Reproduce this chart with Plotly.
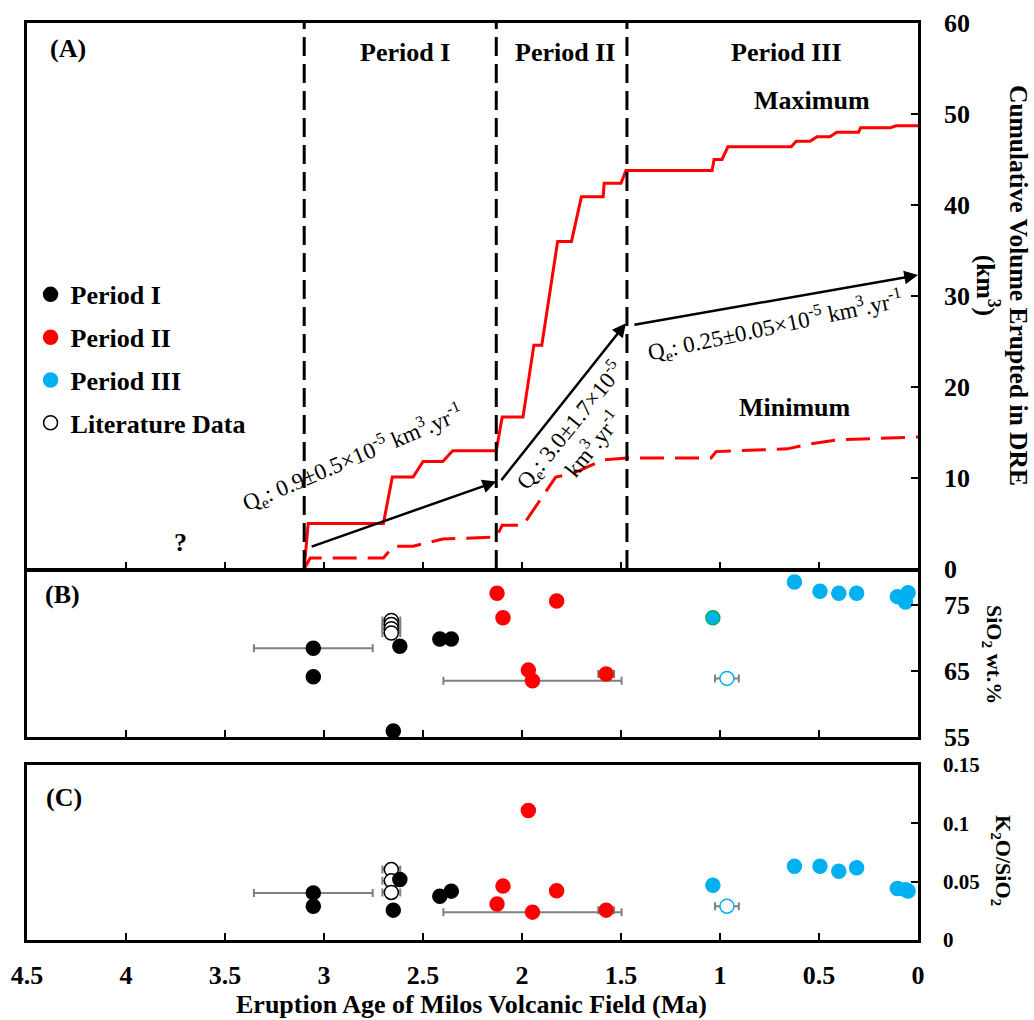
import plotly.graph_objects as go

# ---------------- data ----------------
# Boundaries between eruptive periods (Ma)
period_bounds = [3.10, 2.13, 1.47]
period_names = ["Period I", "Period II", "Period III"]

# Cumulative erupted volume, maximum estimate (km3 DRE)
max_age = [3.10, 3.08, 2.70, 2.655, 2.55, 2.50, 2.40, 2.35, 2.13, 2.10,
           1.995, 1.94, 1.90, 1.82, 1.75, 1.70, 1.59, 1.585, 1.50, 1.475,
           1.04, 1.03, 0.99, 0.96, 0.64, 0.615, 0.545, 0.51, 0.445, 0.41,
           0.30, 0.29, 0.14, 0.11, 0.0]
max_vol = [0.0, 5.0, 5.0, 10.1, 10.1, 11.8, 11.8, 13.0, 13.0, 16.7,
           16.7, 24.6, 24.6, 36.0, 36.0, 40.9, 40.9, 42.4, 42.4, 43.8,
           43.8, 45.0, 45.0, 46.4, 46.4, 47.0, 47.0, 47.5, 47.5, 48.0,
           48.0, 48.5, 48.5, 48.7, 48.7]

# Cumulative erupted volume, minimum estimate (km3 DRE)
min_age = [3.10, 3.07, 2.70, 2.65, 2.55, 2.40, 2.13, 2.10, 1.995, 1.83,
           1.74, 1.59, 1.47, 1.045, 1.02, 0.66, 0.53, 0.40, 0.0]
min_vol = [0.0, 1.2, 1.2, 2.5, 2.5, 3.3, 3.5, 4.8, 4.8, 10.1,
           10.5, 12.0, 12.2, 12.2, 12.9, 13.2, 13.8, 14.2, 14.5]

# Average eruption-rate vectors per period
rate_tail_age = [3.07, 2.11, 1.44]
rate_tail_vol = [2.4, 9.6, 26.8]
rate_head_age = [2.13, 1.475, 0.0]
rate_head_vol = [9.6, 27.0, 32.3]
rate_text = [
    "Q<sub>e</sub>: 0.9±0.5×10<sup>-5</sup> km<sup>3</sup>.yr<sup>-1</sup>",
    "Q<sub>e</sub>: 3.0±1.7×10<sup>-5</sup><br>km<sup>3</sup>.yr<sup>-1</sup>",
    "Q<sub>e</sub>: 0.25±0.05×10<sup>-5</sup> km<sup>3</sup>.yr<sup>-1</sup>",
]

# Period I samples
p1_age = [3.054, 3.054, 2.65, 2.617, 2.415, 2.357]
p1_err = [0.30, 0.0, 0.0, 0.0, 0.0, 0.0]
p1_sio2 = [68.4, 64.1, 55.9, 68.7, 69.8, 69.8]
p1_k2o_sio2 = [0.0404, 0.029, 0.0256, 0.0519, 0.0376, 0.0419]

# Period II samples
p2_age = [2.126, 2.096, 1.968, 1.947, 1.825, 1.575]
p2_err = [0.0, 0.0, 0.0, 0.45, 0.0, 0.04]
p2_sio2 = [76.7, 73.0, 65.1, 63.5, 75.55, 64.5]
p2_k2o_sio2 = [0.0308, 0.0462, 0.111, 0.0239, 0.0422, 0.0256]

# Period III samples
p3_age = [0.624, 0.495, 0.40, 0.31, 0.104, 0.05, 0.063, 1.036]
p3_sio2 = [78.4, 77.0, 76.7, 76.7, 76.2, 76.8, 75.4, 73.0]
p3_k2o_sio2 = [0.0632, 0.0632, 0.059, 0.062, 0.0442, 0.0421, 0.043, 0.047]
p3_edge_b = ["#00B0F0"] * 7 + ["#00B050"]

# Literature data
lit1_age = [2.66, 2.66, 2.66, 2.66]
lit1_err = [0.045, 0.045, 0.045, 0.045]
lit1_sio2 = [72.6, 72.0, 71.35, 70.7]
lit1_k2o_sio2 = [0.0604, 0.0507, 0.0408, None]
lit3_age = [0.965]
lit3_err = [0.06]
lit3_sio2 = [63.85]
lit3_k2o_sio2 = [0.029]

age_ticks = [4.5, 4.0, 3.5, 3.0, 2.5, 2.0, 1.5, 1.0, 0.5, 0.0]
age_ticktext = ["4.5", "4", "3.5", "3", "2.5", "2", "1.5", "1", "0.5", "0"]

# ---------------- styling ----------------
SERIF = "Liberation Serif"
BLACK = "#000000"
RED = "#FF0000"
BLUE = "#00B0F0"
GREY = "#808080"
MS = 14

fig = go.Figure()

# Panel A curves
fig.add_trace(go.Scatter(x=max_age, y=max_vol, mode="lines",
                         line=dict(color=RED, width=3), xaxis="x", yaxis="y",
                         showlegend=False, hoverinfo="skip"))
fig.add_trace(go.Scatter(x=min_age, y=min_vol, mode="lines",
                         line=dict(color=RED, width=3, dash="24px,11px"),
                         xaxis="x", yaxis="y", showlegend=False, hoverinfo="skip"))


def err(vals):
    return dict(type="data", array=vals, color=GREY, thickness=2, width=4)


def pts(x, y, xa, ya, color, edge=None, errx=None, name=None, legend=False,
        rank=None):
    return go.Scatter(
        x=x, y=y, mode="markers", xaxis=xa, yaxis=ya,
        marker=dict(size=MS, color=color,
                    line=dict(color=edge if edge is not None else color, width=1.5)),
        error_x=err(errx) if errx is not None else None,
        name=name, showlegend=legend, legendgroup=name, legendrank=rank,
        hoverinfo="x+y",
    )


# Panel B (SiO2) and C (K2O/SiO2)
for ya, p1y, p2y, p3y, l1y, l3y, leg in [
    ("y2", p1_sio2, p2_sio2, p3_sio2, lit1_sio2, lit3_sio2, True),
    ("y3", p1_k2o_sio2, p2_k2o_sio2, p3_k2o_sio2, lit1_k2o_sio2, lit3_k2o_sio2, False),
]:
    xa = "x2" if ya == "y2" else "x3"
    fig.add_trace(pts(lit1_age, l1y, xa, ya, "white", BLACK, lit1_err,
                      "Literature Data", leg, 4))
    fig.add_trace(pts(lit3_age, l3y, xa, ya, "white", BLUE, lit3_err,
                      "lit3", False))
    fig.add_trace(pts(p1_age, p1y, xa, ya, BLACK, None, p1_err,
                      "Period I", leg, 1))
    fig.add_trace(pts(p2_age, p2y, xa, ya, RED, None, p2_err,
                      "Period II", leg, 2))
    fig.add_trace(pts(p3_age, p3y, xa, ya, BLUE,
                      p3_edge_b if ya == "y2" else None, None,
                      "Period III", leg, 3))

# Period boundaries
for b in period_bounds:
    fig.add_shape(type="line", xref="x", yref="y domain", x0=b, x1=b, y0=0, y1=1,
                  line=dict(color=BLACK, width=3, dash="19px,8px"))

annotations = []

# Eruption-rate arrows and labels
for ta, tv, ha, hv in zip(rate_tail_age, rate_tail_vol, rate_head_age, rate_head_vol):
    annotations.append(dict(x=ha, y=hv, ax=ta, ay=tv, xref="x", yref="y",
                            axref="x", ayref="y", text="", showarrow=True,
                            arrowhead=2, arrowsize=1.1, arrowwidth=2.5,
                            arrowcolor=BLACK, standoff=0, startstandoff=0))
rate_pos = [(2.856, 12.3, -23), (1.705, 14.8, -51), (0.72, 26.8, -12)]
for txt, (px, py, ang) in zip(rate_text, rate_pos):
    annotations.append(dict(x=px, y=py, xref="x", yref="y", text=txt,
                            textangle=ang, showarrow=False, xanchor="center",
                            yanchor="middle",
                            font=dict(family=SERIF, size=23, color=BLACK,
                                      weight="normal")))

bold = dict(family=SERIF, size=26, color=BLACK, weight="bold")


def label(x, y, xref, yref, text, font=bold, angle=0):
    return dict(x=x, y=y, xref=xref, yref=yref, text=text, showarrow=False,
                xanchor="center", yanchor="middle", textangle=angle, font=font)


# Period headings and curve labels
for name, px in zip(period_names, [2.593, 1.781, 0.666]):
    annotations.append(label(px, 56.8, "x", "y", name))
annotations += [
    label(0.535, 51.5, "x", "y", "Maximum"),
    label(0.62, 17.8, "x", "y", "Minimum"),
    label(3.723, 2.9, "x", "y", "?"),
    label(0.046, 0.954, "x domain", "y domain", "(A)"),
    label(0.0404, 0.863, "x2 domain", "y2 domain", "(B)"),
    label(0.0415, 0.817, "x3 domain", "y3 domain", "(C)"),
    # axis titles
    label(1.0943, 0.7143, "paper", "paper",
          "Cumulative Volume Erupted in DRE<br>(km<sup>3</sup>)",
          dict(bold, size=25.5), 90),
    label(1.0842, 0.3119, "paper", "paper", "SiO<sub>2</sub> wt.%",
          dict(bold, size=22), 90),
    label(1.0943, 0.0861, "paper", "paper", "K<sub>2</sub>O/SiO<sub>2</sub>",
          dict(bold, size=22), 90),
    label(0.4994, -0.0698, "paper", "paper",
          "Eruption Age of Milos Volcanic Field (Ma)"),
]

line_style = dict(showline=True, linewidth=2.5, linecolor=BLACK, mirror=True,
                  ticks="inside", ticklen=7, tickwidth=2, tickcolor=BLACK,
                  showgrid=False, zeroline=False)

xcommon = dict(range=[4.5, 0], tickvals=age_ticks, ticktext=age_ticktext,
               **line_style)

# panel A sits directly on panel B; B's top edge is nudged so both frame
# lines coincide instead of doubling up
PLOT_H = 1020 - 23 - 80
A_BOTTOM = 0.4046
B_TOP = A_BOTTOM - 2.5 / PLOT_H

fig.update_layout(
    width=1034, height=1020,
    margin=dict(l=27, r=116, t=23, b=80),
    template="none",
    paper_bgcolor="white", plot_bgcolor="white",
    font=bold,
    xaxis=dict(domain=[0, 1], anchor="y", showticklabels=False, **xcommon),
    xaxis2=dict(domain=[0, 1], anchor="y2", showticklabels=False, **xcommon),
    xaxis3=dict(domain=[0, 1], anchor="y3", showticklabels=True,
                ticklabelstandoff=10, tickfont=bold, **xcommon),
    yaxis=dict(domain=[A_BOTTOM, 1], anchor="x", side="right", range=[0, 60],
               tickvals=[0, 10, 20, 30, 40, 50, 60], ticklabelstandoff=18,
               tickfont=bold, **line_style),
    yaxis2=dict(domain=[0.2214, B_TOP], anchor="x2", side="right", range=[55, 80],
                tickvals=[55, 65, 75], ticklabelstandoff=18, tickfont=bold,
                **line_style),
    yaxis3=dict(domain=[0, 0.1908], anchor="x3", side="right", range=[0, 0.15],
                tickvals=[0, 0.05, 0.1, 0.15], ticktext=["0", "0.05", "0.1", "0.15"],
                ticklabelstandoff=18, tickfont=dict(bold, size=21), **line_style),
    legend=dict(x=0.004, y=0.7296, xanchor="left", yanchor="top",
                bgcolor="rgba(0,0,0,0)", borderwidth=0, font=bold,
                tracegroupgap=6, itemsizing="trace"),
    annotations=annotations,
    showlegend=True,
)

fig.write_html("out.html")
